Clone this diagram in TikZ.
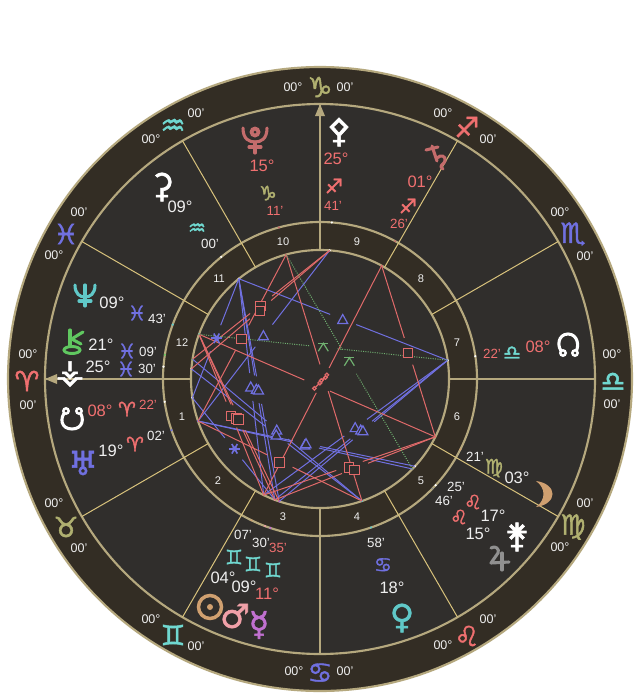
\documentclass[tikz,border=0pt]{standalone}
\usepackage{fontspec}
\setmainfont{Liberation Sans}
\newfontfamily\astro[FakeBold=1.6]{DejaVu Sans}
\usetikzlibrary{calc}
\definecolor{bandc}{HTML}{332D24}
\definecolor{diskc}{HTML}{302E2C}
\definecolor{ringc}{HTML}{B5A87E}
\definecolor{cuspc}{HTML}{D8C27C}
\definecolor{wtxt}{HTML}{EFEFEF}
\definecolor{fire}{HTML}{F07070}
\definecolor{earth}{HTML}{B0B070}
\definecolor{air}{HTML}{70D8D0}
\definecolor{water}{HTML}{7070E0}
\definecolor{ctan}{HTML}{D0A070}
\definecolor{cmer}{HTML}{C070D0}
\definecolor{cven}{HTML}{60C8C8}
\definecolor{cmar}{HTML}{F0A0A8}
\definecolor{cjup}{HTML}{909090}
\definecolor{csat}{HTML}{C46C6C}
\definecolor{cchi}{HTML}{60C860}
\definecolor{asred}{HTML}{E06A6A}
\definecolor{asblue}{HTML}{7070E0}
\definecolor{asgreen}{HTML}{70B070}
\tikzset{
 x=0.75pt,y=-0.75pt,
 signdeg/.style={text=wtxt,font=\fontsize{9.4pt}{10pt}\selectfont,inner sep=0pt},
 pdeg/.style={font=\fontsize{12.4pt}{13pt}\selectfont,inner sep=0pt,text=wtxt},
 pmin/.style={font=\fontsize{10pt}{11pt}\selectfont,inner sep=0pt,text=wtxt},
 house/.style={font=\fontsize{8.3pt}{9pt}\selectfont,inner sep=0pt,text=wtxt},
 bigsign/.style={font=\astro\fontsize{21pt}{22pt}\selectfont,inner sep=0pt},
 smallsign/.style={font=\astro\fontsize{15pt}{16pt}\selectfont,inner sep=0pt},
 planet/.style={font=\astro\fontsize{25pt}{26pt}\selectfont,inner sep=0pt},
 axisline/.style={draw=ringc,line width=1.6pt},
 cusp/.style={draw=cuspc,line width=0.75pt},
 redasp/.style={draw=asred,line width=0.75pt},
 blueasp/.style={draw=asblue,line width=0.75pt},
 greenasp/.style={draw=asgreen,line width=0.75pt,densely dotted},
 glyphpen/.style={line width=2.3pt,line cap=round,line join=round},
}
\newcommand{\sq}[2]{\path ($(#1)!0.5!(#2)$) ++(-0.5,1.5) node[draw=asred,fill=diskc,line width=0.75pt,minimum size=7pt,inner sep=0pt] {};}
\newcommand{\tri}[2]{\path ($(#1)!0.5!(#2)$) ++(-0.5,0) coordinate (t);
 \draw[blueasp,fill=diskc,line width=0.9pt] ($(t)+(0,-5)$) -- ($(t)+(5,4)$) -- ($(t)+(-5,4)$) -- cycle;}
\newcommand{\aspline}[3]{\draw[#1] (#2) -- ($(#2)!0.5!(#3)!10.5pt!(#2)$);\draw[#1] (#3) -- ($(#2)!0.5!(#3)!10.5pt!(#3)$);}
\begin{document}
\begin{tikzpicture}
\useasboundingbox (0,0) rectangle (640,700);
\fill[white] (0,0) rectangle (640,700);
\coordinate (C) at (320,379);
\filldraw[fill=bandc,draw=ringc,line width=1.6pt] (C) circle (312);
\filldraw[fill=diskc,draw=ringc,line width=1.6pt] (C) circle (275);
\filldraw[fill=bandc,draw=ringc,line width=1.6pt] (C) circle (157);
\filldraw[fill=diskc,draw=ringc,line width=1.6pt] (C) circle (129);
% cusps
\foreach \a in {30,60,120,150,210,240,300,330}{
 \draw[cusp] ($(C)+(\a:129)$) -- ($(C)+(\a:275)$);}
\foreach \a in {90,180,270,0}{
 \coordinate (inn\a) at ($(C)+(\a:129)$);
 \coordinate (out\a) at ($(C)+(\a:275)$);
 \draw[axisline] (inn\a) -- (out\a);}
\fill[ringc] (320,104) -- (325,116) -- (315,116) -- cycle;
\fill[ringc] (45,379) -- (57,374) -- (57,384) -- cycle;
% planet points
\foreach \n/\l/\c in {SN/8.37/white,Ura/19.03/water,Sun/64.12/ctan,Mar/69.5/cmar,Mer/71.58/cmer,Ven/108.97/cven,Jup/135.77/cjup,Jun/137.42/white,Moon/153.35/ctan,NN/188.37/white,Sat/241.43/csat,Pal/265.68/white,Plu/285.18/csat,Cer/309/white,Nep/339.72/cven,Chi/351.15/cchi,Ves/355.5/white}{
 \coordinate (\n) at ($(C)+({-180-\l}:129)$);
 \fill[\c] (\n) circle (1.2);
 \fill[\c] ($(C)+({-180-\l}:157)$) circle (1.2);
}
% aspect lines
\foreach \a/\b in {Cer/Sun,Cer/Mar,Cer/Mer,Cer/NN,Pal/Ura,Ura/Jup,Ura/Jun,Ven/Chi,Ven/Ves,NN/Sun,NN/Mar,NN/Mer,SN/Cer,SN/Mar}{\aspline{blueasp}{\a}{\b}}
\foreach \a/\b in {Pal/Chi,Pal/Ves,Plu/Ura,Nep/Sun,Nep/Mar,Nep/Mer,Ura/Ven,Sun/Moon,Mar/Moon,Sat/Moon,Sat/Sun,Nep/Moon,Plu/Ven}{\aspline{redasp}{\a}{\b}}
\foreach \a/\b in {Nep/NN,Plu/Jup}{\aspline{greenasp}{\a}{\b}}
% aspect glyphs
\foreach \a/\b in {Cer/Sun,Cer/Mar,Cer/Mer,Cer/NN,Pal/Ura,Ura/Jup,Ura/Jun,Ven/Chi,Ven/Ves,NN/Sun,NN/Mar,NN/Mer}{\tri{\a}{\b}}
\foreach \a/\b in {Pal/Chi,Pal/Ves,Plu/Ura,Nep/Sun,Nep/Mar,Nep/Mer,Ura/Ven,Sun/Moon,Mar/Moon,Sat/Moon}{\sq{\a}{\b}}
\foreach \a/\b in {SN/Cer,SN/Mar}{
 \path ($(\a)!0.5!(\b)$) ++(1,0) coordinate (t);
 \foreach \r in {0,60,120}{\draw[draw=asblue,line width=1.2pt] ($(t)+(\r:5.5)$) -- ($(t)+(\r+180:5.5)$);}
 \fill[asblue] (t) circle (2.5);
}
\foreach \a/\b in {Nep/NN,Plu/Jup}{
 \path ($(\a)!0.5!(\b)$) coordinate (t);
 \draw[draw=asgreen,line width=0.9pt] ($(t)+(-5,-4)$) -- ($(t)+(5,-4)$);
 \draw[draw=asgreen,line width=0.9pt] ($(t)+(-5,4)$) -- ($(t)+(0,-4)$) -- ($(t)+(5,4)$);
}
\foreach \a/\b in {Sat/Sun,Nep/Moon,Plu/Ven}{
 \path ($(\a)!0.5!(\b)$) coordinate (t);
 \draw[draw=asred,line width=0.9pt] ($(t)+(-3.6,3.6)$) -- ($(t)+(3.6,-3.6)$);
 \draw[draw=asred,fill=diskc,line width=0.9pt] ($(t)+(-2.8,2.8)$) circle (1.8);
 \draw[draw=asred,fill=diskc,line width=0.9pt] ($(t)+(2.8,-2.8)$) circle (1.8);
}
% zodiac ring
\foreach \s/\c/\gx/\gy/\dx/\dy/\mx/\my in {
♑/earth/320/87/293/87/345/87,
♒/air/173/127/151/139/196/113,
♓/water/66/234/54/255/79/212,
♈/fire/27/381/28/354/28/405,
♉/earth/66/527/54/503/79/548,
♊/air/173/635/151/619/196/646,
♋/water/320/673/294/671/345/671,
♌/fire/467/636/443/645/488/619,
♍/earth/573/527/560/547/585/503,
♎/air/613/382/612/354/612/404,
♏/water/573/234/560/212/585/256,
♐/fire/467/127/443/113/488/139}{
 \node[bigsign,text=\c] (g\gx) at (\gx,\gy) {\s};
 \node[signdeg] (d\gx) at (\dx,\dy) {00°};
 \node[signdeg] (m\gx) at (\mx,\my) {00'};
}
% planets set as text
\foreach \g/\c/\x/\y in {⚳/white/162/187,⚶/white/70/374,♅/water/83/463,♂/cmar/235/616,☿/cmer/259/625,♀/cven/402/618,⚵/white/517/537,⚴/white/339/132}{
 \node[planet,text=\c] at (\x,\y) {\g};
}
% planets drawn as shapes
\draw[csat,glyphpen] (243,128) .. controls (243,139) and (249,142) .. (255,142) .. controls (261,142) and (267,139) .. (267,128);
\draw[csat,glyphpen] (255,142) -- (255,153);
\draw[csat,glyphpen] (249,147) -- (261,147);
\fill[csat] (255,132) circle (5.5);
\fill[diskc] (255,132) circle (1.5);
% neptune
\draw[cven,glyphpen] (75,285) .. controls (75,294) and (80,297) .. (85,297) .. controls (90,297) and (95,294) .. (95,285);
\draw[cven,glyphpen] (85,285) -- (85,306);
\draw[cven,glyphpen] (79,301) -- (91,301);
% north node
\draw[white,glyphpen] (563,353) .. controls (556,347) and (558,334) .. (568,334) .. controls (578,334) and (580,347) .. (575,353);
\fill[white] (563,353) circle (4); \fill[diskc] (563,353) circle (1.3);
\fill[white] (575,353) circle (4); \fill[diskc] (575,353) circle (1.3);
% south node
\draw[white,glyphpen] (66,411) .. controls (59,418) and (61,429) .. (72,429) .. controls (83,429) and (85,418) .. (79,411);
\fill[white] (66,411) circle (4); \fill[diskc] (66,411) circle (1.3);
\fill[white] (79,411) circle (4); \fill[diskc] (79,411) circle (1.3);
% sun
\draw[ctan,line width=2.6pt] (210,607) circle (11.5);
\fill[ctan] (210,607) circle (3);
% chiron
\draw[cchi,glyphpen] (70,330) -- (70,346);
\draw[cchi,glyphpen] (70,340) -- (83,332);
\draw[cchi,glyphpen] (70,338) -- (81,344);
\draw[cchi,line width=2.2pt] (72,350) ellipse (8 and 3.5);
% moon
\fill[ctan] (536,481) .. controls (558,484) and (558,504) .. (536,507) .. controls (546,500) and (546,488) .. (536,481) -- cycle;
% jupiter
\draw[cjup,glyphpen] (491,548) .. controls (495,545) and (500,549) .. (498,553) -- (491,563) -- (509,562);
\draw[cjup,glyphpen] (502,553) -- (502,570);
% saturn
\draw[csat,glyphpen] (432,146) -- (437,161);
\draw[csat,glyphpen] (426,150) -- (438,147);
\draw[csat,glyphpen] (437,158) .. controls (441,154) and (446,156) .. (445,161) .. controls (444,165) and (438,165) .. (443,169);
\foreach \t/\c/\x/\y in {15°/fire/262/166,09°/wtxt/180/207,09°/wtxt/112/303,21°/wtxt/101/345,25°/wtxt/98/367,08°/fire/100/411,19°/wtxt/111/451,04°/wtxt/223/578,09°/wtxt/244/587,11°/fire/267/594,18°/wtxt/392/588,15°/wtxt/478/534,17°/wtxt/493/516,03°/wtxt/517/478,08°/fire/538/347,25°/fire/336/159,01°/fire/420/182}{
 \node[pdeg,text=\c] at (\x,\y) {\t};
}
\foreach \t/\c/\x/\y in {11'/fire/275/211,00'/wtxt/210/244,43'/wtxt/157/319,09'/wtxt/148/352,30'/wtxt/147/369,22'/fire/148/405,02'/wtxt/156/436,07'/wtxt/243/535,30'/wtxt/261/543,35'/fire/278/548,58'/wtxt/376/543,46'/wtxt/444/501,25'/wtxt/456/487,21'/wtxt/475/457,22'/fire/492/354,41'/fire/333/206,26'/fire/399/224}{
 \node[pmin,text=\c] at (\x,\y) {\t};
}
\foreach \g/\c/\x/\y in {♑/earth/268/193,♒/air/197/229,♓/water/137/313,♓/water/127/351,♓/water/126/369,♈/fire/127/409,♈/fire/135/444,♊/air/234/557,♊/air/253/564,♊/air/273/570,♋/water/383/565,♌/fire/459/517,♌/fire/473/502,♍/earth/494/468,♎/air/512/353,♐/fire/334/186,♐/fire/408/206}{
 \node[smallsign,text=\c] at (\x,\y) {\g};
}
\foreach \t/\x/\y in {10/283/242,11/219/279,12/182/343,1/182/417,2/218/481,3/283/517,4/357/517,5/421/481,6/457/417,7/457/343,8/421/279,9/357/242}{
 \node[house] at (\x,\y) {\t};
}
\end{tikzpicture}
\end{document}
